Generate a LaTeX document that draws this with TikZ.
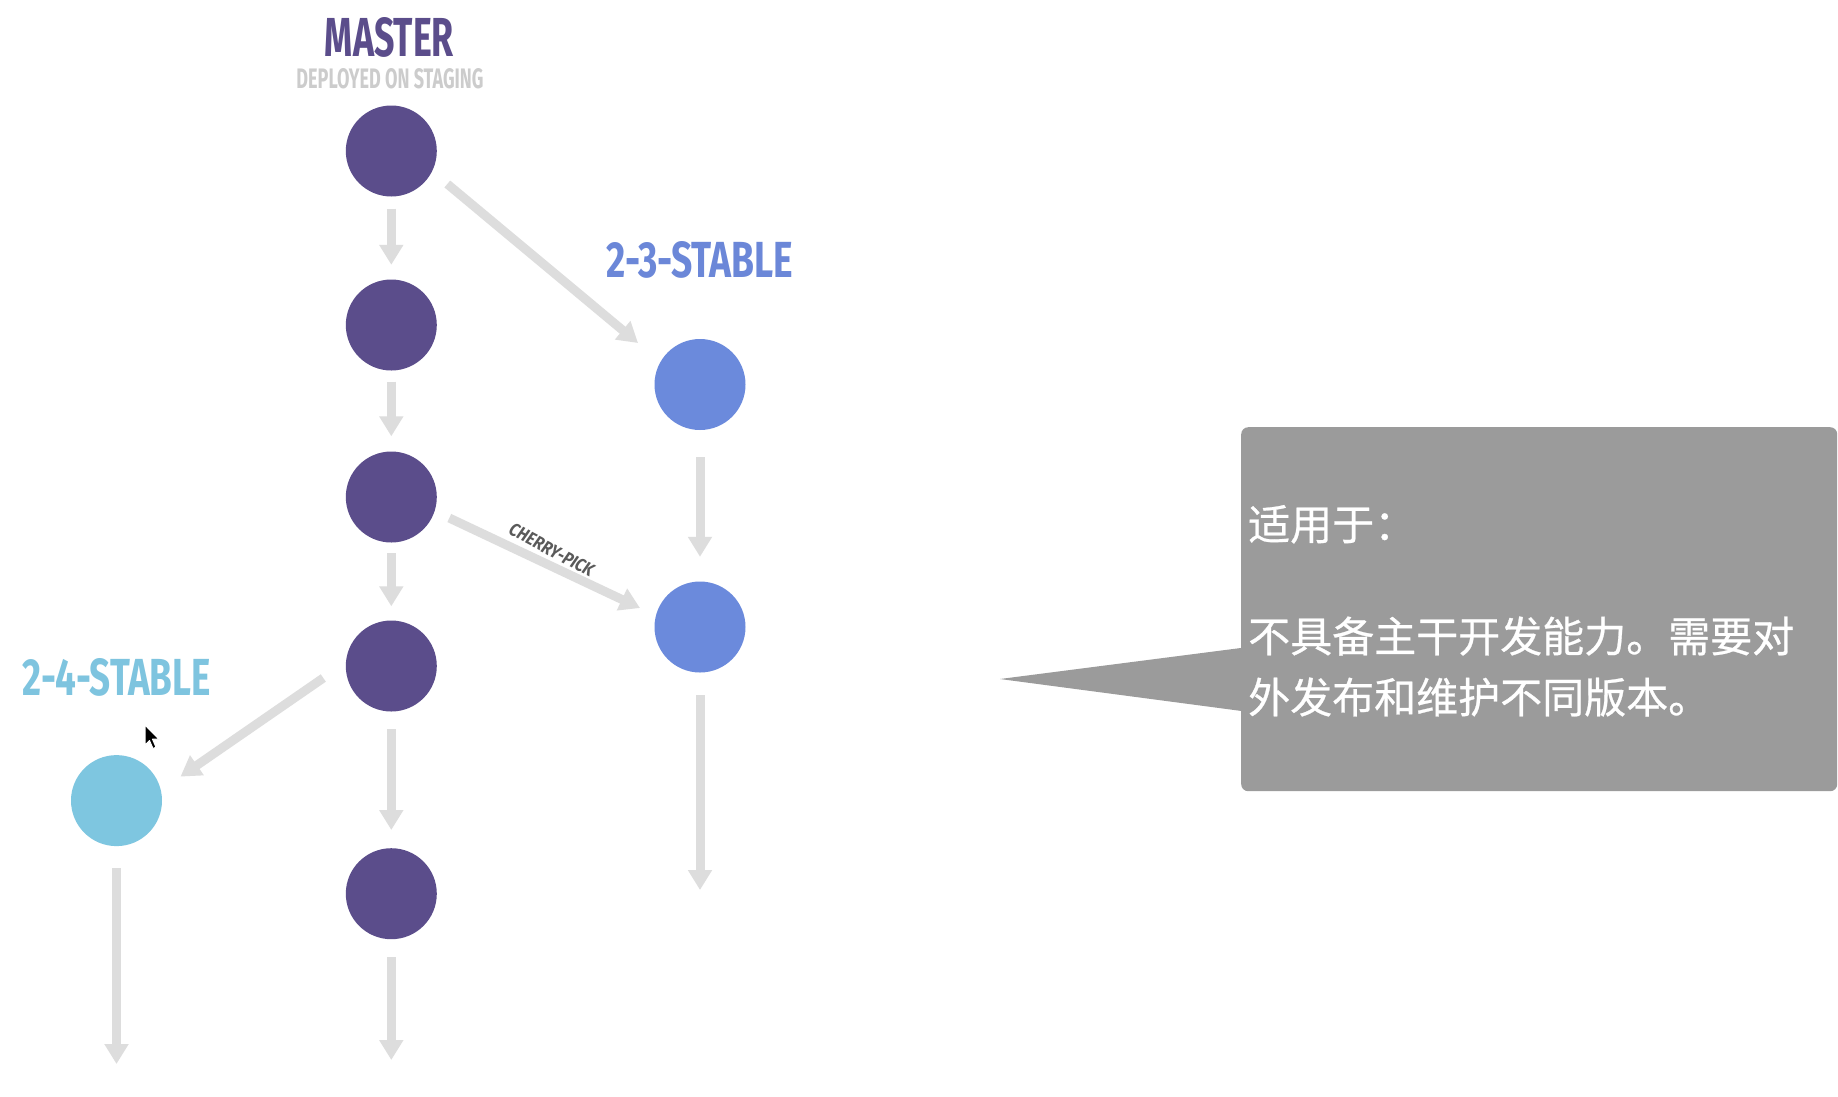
\documentclass[tikz,border=0pt]{standalone}
\usepackage{fontspec}
\usepackage{graphicx}
\usetikzlibrary{arrows.meta}
\newfontfamily\labelfont{Fira Sans}
\newfontfamily\cjkfont[FakeBold=0.6]{Noto Sans CJK SC}
\definecolor{masterc}{RGB}{91,77,139}
\definecolor{stabthree}{RGB}{107,138,220}
\definecolor{stabfour}{RGB}{126,198,224}
\definecolor{lblthree}{RGB}{107,135,216}
\definecolor{lblfour}{RGB}{126,196,223}
\definecolor{arrowgray}{RGB}{221,221,221}
\definecolor{subgray}{RGB}{204,204,204}
\definecolor{cherrygray}{RGB}{90,90,90}
\definecolor{boxgray}{RGB}{155,155,155}
\tikzset{
  commit/.style={circle, minimum size=91pt, inner sep=0pt, draw=none},
  flow/.style={draw=arrowgray, line width=9pt, -{Triangle[width=23pt,length=20pt]}},
  biglabel/.style={inner sep=0pt, anchor=center},
  cjktext/.style={inner sep=0pt, anchor=base west, text=white, font=\cjkfont\fontsize{42}{50}\selectfont},
}
\begin{document}
\begin{tikzpicture}[x=1pt,y=-1pt]
\fill[white] (0,0) rectangle (1838,1096);
\useasboundingbox (0,0) rectangle (1838,1096);

% labels
\node[biglabel, text=masterc] (lmaster) at (389.5,37) {\resizebox{129pt}{39pt}{\labelfont\bfseries MASTER}};
\node[biglabel, text=subgray] (ldeploy) at (390,78.3) {\resizebox{187pt}{20pt}{\labelfont\bfseries DEPLOYED ON STAGING}};
\node[biglabel, text=lblthree] (lthree) at (700,259.5) {\resizebox{187pt}{36pt}{\labelfont\bfseries 2-3-STABLE}};
\node[biglabel, text=lblfour] (lfour) at (116.7,677.7) {\resizebox{188pt}{37pt}{\labelfont\bfseries 2-4-STABLE}};

% commits
\node[commit, fill=masterc] (m1) at (391.3,151) {};
\node[commit, fill=masterc] (m2) at (391.3,325) {};
\node[commit, fill=masterc] (m3) at (391.3,497) {};
\node[commit, fill=masterc] (m4) at (391.3,666) {};
\node[commit, fill=masterc] (m5) at (391.3,893.7) {};
\node[commit, fill=stabthree] (s3a) at (700,384.5) {};
\node[commit, fill=stabthree] (s3b) at (700,627) {};
\node[commit, fill=stabfour] (s4) at (116.5,800.6) {};

\coordinate (endthree) at (700,890);
\coordinate (endmaster) at (391.3,1060);
\coordinate (endfour) at (116.5,1064);

% master flow
\draw[flow, shorten <=12pt, shorten >=14.5pt] (m1) -- (m2);
\draw[flow, shorten <=11pt, shorten >=15pt] (m2) -- (m3);
\draw[flow, shorten <=10.5pt, shorten >=14pt] (m3) -- (m4);
\draw[flow, shorten <=17.5pt, shorten >=18pt] (m4) -- (m5);
\draw[flow, shorten <=18pt] (m5) -- (endmaster);

% 2-3-stable flow
\draw[flow, shorten <=27pt, shorten >=24.5pt] (s3a) -- (s3b);
\draw[flow, shorten <=22.5pt] (s3b) -- (endthree);

% 2-4-stable flow
\draw[flow, shorten <=22pt] (s4) -- (endfour);

% branches
\draw[flow] ([shift={(56,33)}]m1.center) -- ([shift={(-62,-41.5)}]s3a.center);
\draw[flow] ([shift={(58,21)}]m3.center) -- ([shift={(-60,-19)}]s3b.center);
\draw[flow] ([shift={(-68,12)}]m4.center) -- ([shift={(64,-24)}]s4.center);

\node[biglabel, text=cherrygray, rotate=-28] (lcherry) at (551.7,550) {\resizebox{93pt}{13pt}{\labelfont\bfseries\itshape CHERRY-PICK}};

% cursor
\filldraw[fill=black, draw=white, line width=1pt, line join=round] (145,725) -- ++(0,20) -- ++(4.5,-4.5) -- ++(3.5,8) -- ++(3,-1.3) -- ++(-3.5,-8) -- ++(6.5,0) -- cycle;

% callout
\node[fill=boxgray, rounded corners=7pt, minimum width=596pt, minimum height=364pt, inner sep=0pt, anchor=north west] (box) at (1241,427) {};
\coordinate (tip) at (1000,679);
\fill[boxgray] (tip) -- ([shift={(6,38)}]box.west) -- ([shift={(6,102.5)}]box.west) -- cycle;

\node[cjktext] (t1) at (1248,540) {适用于：};
\node[cjktext] (t2) at (1248,652) {不具备主干开发能力。需要对};
\node[cjktext] (t3) at (1248,713) {外发布和维护不同版本。};
\end{tikzpicture}
\end{document}
